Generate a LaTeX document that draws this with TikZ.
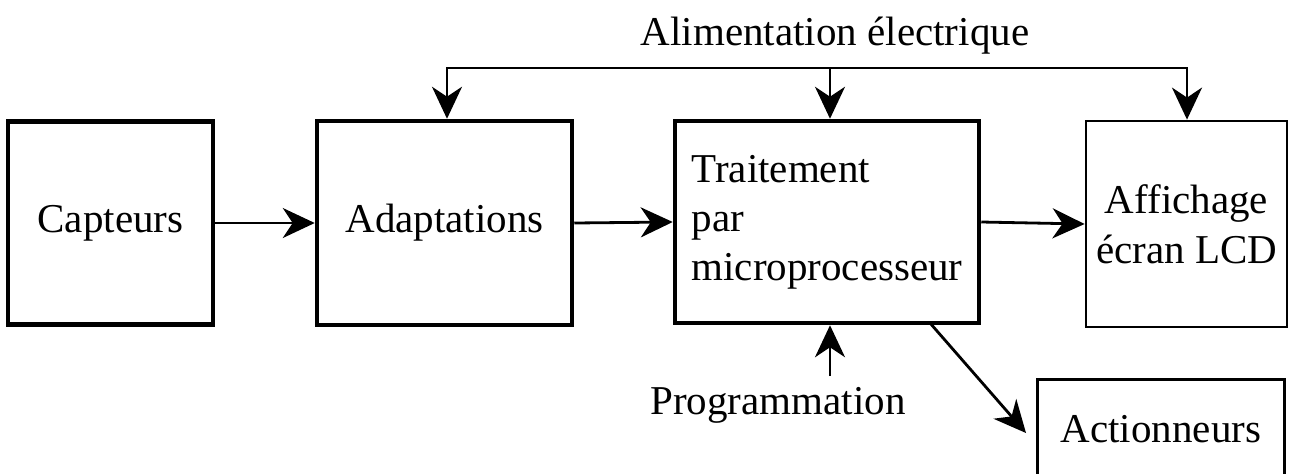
\documentclass[tikz,border=0pt]{standalone}
\usepackage{fontspec}
\setmainfont{Liberation Serif}
\usetikzlibrary{arrows.meta}
\tikzset{
  arr/.tip={Stealth[length=32pt,width=30pt,inset=10pt]},
  conn/.style={line width=2.8pt,-arr},
  thickbox/.style={draw,line width=4.5pt,inner sep=0pt},
  thinbox/.style={draw,line width=2.8pt,inner sep=0pt},
  lbl/.style={inner sep=0pt}
}
\begin{document}
\begin{tikzpicture}[x=1pt,y=-1pt,font=\fontsize{41}{49}\selectfont]
\useasboundingbox (0,0) rectangle (1290,475);
\clip (0,0) rectangle (1290,473);
\node[thickbox,minimum width=205pt,minimum height=203pt] (cap) at (110.5,223) {Capteurs};
\node[thickbox,minimum width=255pt,minimum height=204pt] (adapt) at (444.5,223) {Adaptations};
\node[thickbox,minimum width=304pt,minimum height=202pt,align=left] (trait) at (827,222) {Traitement\\par\\microprocesseur};
\node[thinbox,minimum width=201pt,minimum height=206pt,align=center] (aff) at (1186.5,224) {Affichage\\[1pt]écran LCD};
\node[thinbox,minimum width=247pt,minimum height=100pt,anchor=north west] (act) at (1036,378) {Actionneurs};
\node[lbl] (alim) at (835,36) {Alimentation électrique};
\node[lbl] (prog) at (778,405) {Programmation};
\coordinate (bl) at (447,68);
\coordinate (bm) at (830,68);
\coordinate (br) at (1187,68);
\coordinate (ps) at (830,376);
\coordinate (ds) at (930,323);
\coordinate (de) at (1026,433);
\draw[conn] (cap.east) -- (adapt.west);
\draw[conn] (adapt.east) -- (trait.west);
\draw[conn] (trait.east) -- (aff.west);
\draw[line width=2.8pt,arr-arr] (bl |- adapt.north) -- (bl) -- (br) -- (br |- aff.north);
\draw[conn] (bm) -- (bm |- trait.north);
\draw[conn] (ps) -- (ps |- trait.south);
\draw[conn] (ds) -- (de);
\end{tikzpicture}
\end{document}
